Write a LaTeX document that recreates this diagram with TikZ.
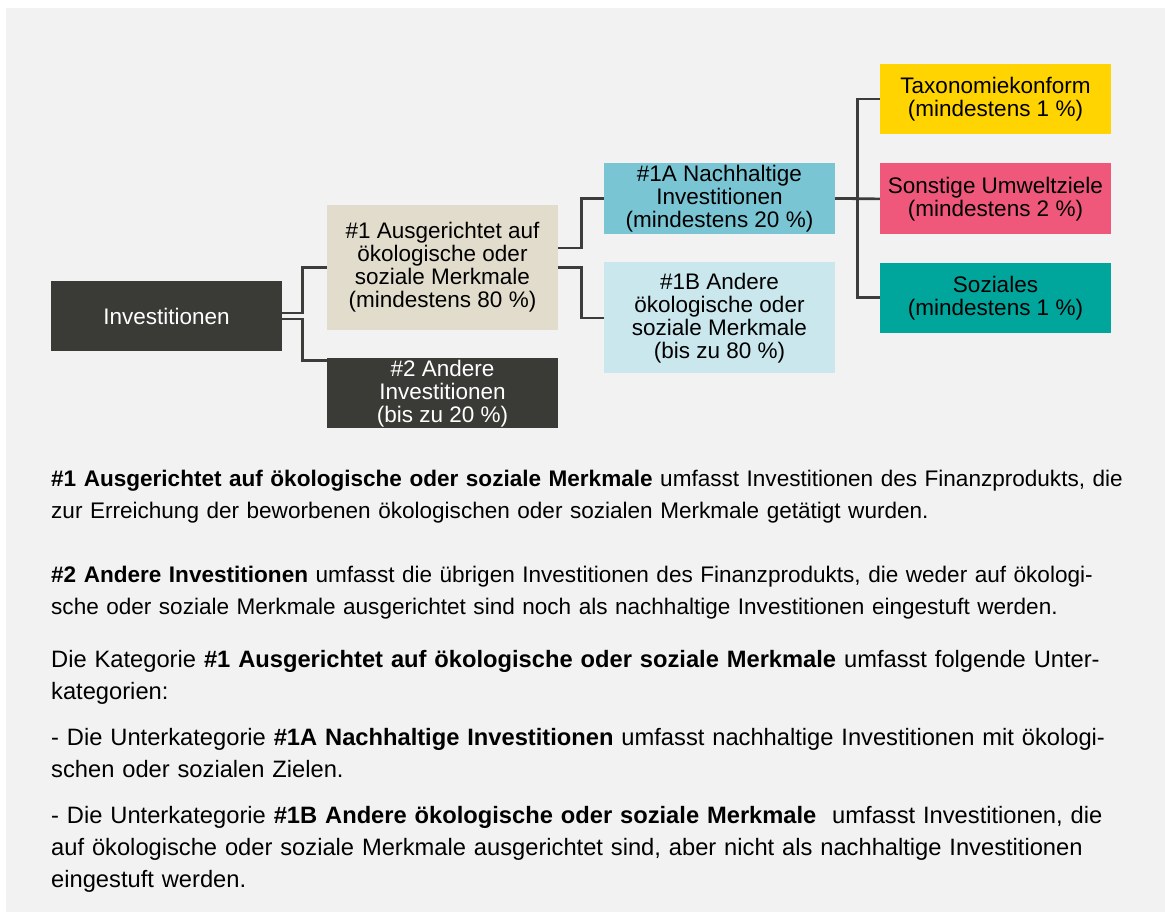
\documentclass[tikz,border=0pt]{standalone}
\usepackage{fontspec}
\setmainfont{Liberation Sans}
\usetikzlibrary{positioning}
\definecolor{bgclr}{HTML}{F2F2F2}
\definecolor{darkclr}{HTML}{3A3B37}
\definecolor{lineclr}{HTML}{3C3D3A}
\definecolor{beigeclr}{HTML}{E1DCCB}
\definecolor{blueclr}{HTML}{7AC5D4}
\definecolor{paleclr}{HTML}{C9E7ED}
\definecolor{yellowclr}{HTML}{FFD400}
\definecolor{pinkclr}{HTML}{F0587B}
\definecolor{tealclr}{HTML}{00A69C}

\begin{document}
\begin{tikzpicture}[x=1pt,y=-1pt,node distance=28pt,
    box/.style={minimum width=231pt,inner sep=0pt,align=center,font=\fontsize{22.5}{23}\selectfont},
    darkbox/.style={box,fill=darkclr,text=white},
    conn/.style={draw=lineclr,line width=2.7pt},
    para/.style={anchor=base west,inner sep=0pt,text width=1110pt,align=left,font=\fontsize{22.55}{32}\selectfont},
    bigpara/.style={para,font=\fontsize{23.7}{32}\selectfont}]
    \useasboundingbox (0,0) rectangle (1165,912);
    \fill[bgclr] (6,8) rectangle (1165,912);
    % Tree of the investments
    \node[darkbox,minimum height=70pt] (inv) at (166.5,316) {Investitionen};
    \node[box,fill=beigeclr,minimum height=125pt] (c1) at (442.5,267.5) {\#1 Ausgerichtet auf\\ökologische oder\\soziale Merkmale\\(mindestens 80~\%)};
    \node[darkbox,minimum height=70pt,below=28pt of c1] (c2) {\#2 Andere\\Investitionen\\(bis zu 20~\%)};
    \node[box,fill=blueclr,minimum height=71pt] (c1a) at (719.5,198.5) {\#1A Nachhaltige\\Investitionen\\(mindestens 20~\%)};
    \node[box,fill=paleclr,minimum height=111pt,below=28pt of c1a] (c1b) {\#1B Andere\\ökologische oder\\soziale Merkmale\\(bis zu 80~\%)};
    \node[box,fill=yellowclr,minimum height=70pt] (tax) at (995.5,99) {Taxonomiekonform\\(mindestens 1~\%)};
    \node[box,fill=pinkclr,minimum height=71pt,below=29pt of tax] (sonst) {Sonstige Umweltziele\\(mindestens 2~\%)};
    \node[box,fill=tealclr,minimum height=70pt,below=28pt of sonst] (soz) {Soziales\\(mindestens 1~\%)};
    \draw[conn] ([yshift=3pt]inv.east) -- ++(20,0) |- (c1.west);
    \draw[conn] ([yshift=-3pt]inv.east) -- ++(20,0) |- ([yshift=-2pt]c2.north west);
    \draw[conn] ([yshift=19.5pt]c1.east) -- ++(23,0) |- (c1a.west);
    \draw[conn] (c1.east) -- ++(23,0) |- (c1b.west);
    \draw[conn] (c1a.east) -- ++(22,0) |- (tax.west);
    \draw[conn] (c1a.east) -- (sonst.west);
    \draw[conn] (c1a.east) -- ++(22,0) |- (soz.west);
    % Explanations
    \node[para] (p1) at (51,486) {\textbf{\#1 Ausgerichtet auf ökologische oder soziale Merkmale} umfasst Investitionen des Finanzprodukts, die\\zur Erreichung der beworbenen ökologischen oder sozialen Merkmale getätigt wurden.};
    \node[para] (p2) at (51,582) {\textbf{\#2 Andere Investitionen} umfasst die übrigen Investitionen des Finanzprodukts, die weder auf ökologi-\\sche oder soziale Merkmale ausgerichtet sind noch als nachhaltige Investitionen eingestuft werden.};
    \node[bigpara] (p3) at (51,667) {Die Kategorie \textbf{\#1 Ausgerichtet auf ökologische oder soziale Merkmale} umfasst folgende Unter-\\kategorien:};
    \node[bigpara] (p4) at (51,745) {- Die Unterkategorie \textbf{\#1A Nachhaltige Investitionen} umfasst nachhaltige Investitionen mit ökologi-\\schen oder sozialen Zielen.};
    \node[bigpara] (p5) at (51,823) {- Die Unterkategorie \textbf{\#1B Andere ökologische oder soziale Merkmale}\ \ umfasst Investitionen, die\\auf ökologische oder soziale Merkmale ausgerichtet sind, aber nicht als nachhaltige Investitionen\\eingestuft werden.};
\end{tikzpicture}
\end{document}
